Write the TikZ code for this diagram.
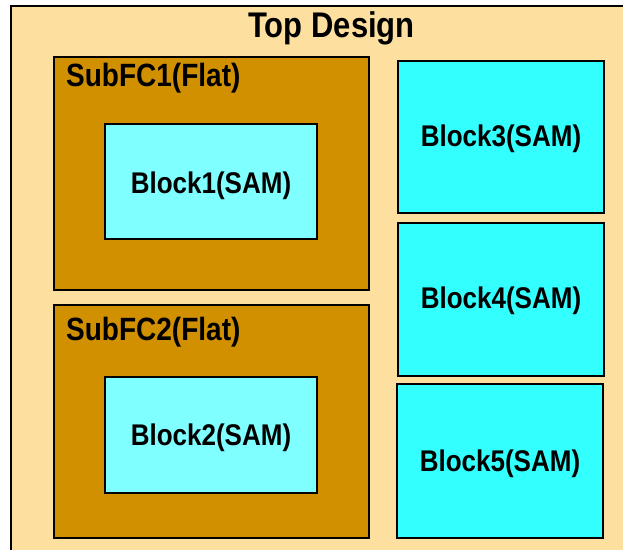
\documentclass[tikz,border=0pt]{standalone}
\usepackage{fontspec}
\setmainfont{Liberation Sans}
\definecolor{topfill}{RGB}{253,224,160}
\definecolor{subfill}{RGB}{208,144,0}
\definecolor{lightcy}{RGB}{127,255,255}
\definecolor{brightcy}{RGB}{51,255,255}
\begin{document}
\begin{tikzpicture}[x=1pt,y=-1pt,
  box/.style={draw=black,line width=2.6pt},
  lbl/.style={inner sep=0pt,font=\bfseries},
]
\useasboundingbox (0,0) rectangle (623,549);
\clip (0,0) rectangle (623,549);
\fill[white] (0,0) rectangle (623,549);
% outer
\draw[box,fill=topfill] (11,6) rectangle (640,570);
\node[lbl,font=\fontsize{31}{31}\bfseries] (top) at (331.5,28.5) {\scalebox{1}[1.15]{Top Design}};
% subFC1
\draw[box,fill=subfill] (54,57) rectangle (369,290);
\node[lbl,anchor=west,font=\fontsize{28}{28}\bfseries] (s1) at (66,78.5) {\scalebox{1}[1.15]{SubFC1(Flat)}};
\draw[box,fill=lightcy] (105,124) rectangle (317,239);
\node[lbl,font=\fontsize{26}{26}\bfseries] (b1) at (211,186) {\scalebox{1}[1.15]{Block1(SAM)}};
% subFC2
\draw[box,fill=subfill] (54,305) rectangle (369,538);
\node[lbl,anchor=west,font=\fontsize{28}{28}\bfseries] (s2) at (66,332) {\scalebox{1}[1.15]{SubFC2(Flat)}};
\draw[box,fill=lightcy] (105,377) rectangle (317,493);
\node[lbl,font=\fontsize{26}{26}\bfseries] (b2) at (211,438) {\scalebox{1}[1.15]{Block2(SAM)}};
% right blocks
\draw[box,fill=brightcy] (398,61) rectangle (604,213);
\node[lbl,font=\fontsize{26}{26}\bfseries] (b3) at (501,139) {\scalebox{1}[1.15]{Block3(SAM)}};
\draw[box,fill=brightcy] (398,223) rectangle (604,376);
\node[lbl,font=\fontsize{26}{26}\bfseries] (b4) at (501,301) {\scalebox{1}[1.15]{Block4(SAM)}};
\draw[box,fill=brightcy] (397,384) rectangle (603,538);
\node[lbl,font=\fontsize{26}{26}\bfseries] (b5) at (500,464) {\scalebox{1}[1.15]{Block5(SAM)}};
\end{tikzpicture}
\end{document}
